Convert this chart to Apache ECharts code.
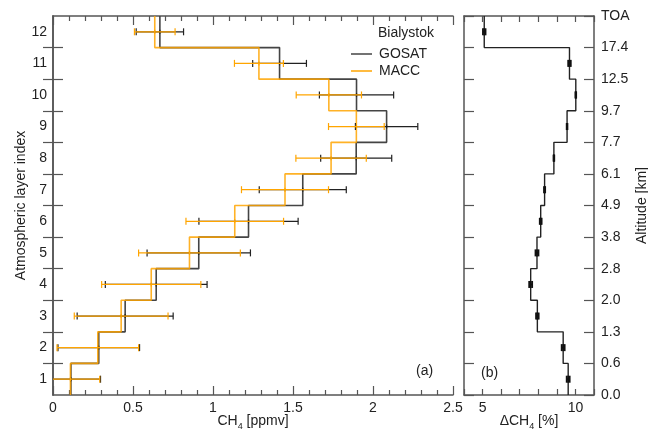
<!DOCTYPE html>
<html>
<head>
<meta charset="utf-8">
<script src="https://cdn.jsdelivr.net/npm/echarts@6.0.0/dist/echarts.min.js"></script>
<style>
  html, body { margin: 0; padding: 0; background: #fff; }
  #chart { width: 648px; height: 432px; }
</style>
</head>
<body>
<div id="chart"></div>
<script>
// capas atmosfericas 1..12
const layers = [1, 2, 3, 4, 5, 6, 7, 8, 9, 10, 11, 12];
const layerBounds = [1.5, 2.5, 3.5, 4.5, 5.5, 6.5, 7.5, 8.5, 9.5, 10.5, 11.5];

// CH4 [ppmv] por capa
const gosat    = [0.112, 0.286, 0.451, 0.645, 0.911, 1.222, 1.561, 1.895, 2.085, 1.897, 1.416, 0.668];
const gosatErr = [0.185, 0.255, 0.300, 0.318, 0.323, 0.310, 0.272, 0.222, 0.195, 0.232, 0.168, 0.148];
const macc     = [0.109, 0.280, 0.426, 0.614, 0.853, 1.136, 1.450, 1.738, 1.896, 1.724, 1.287, 0.636];
const maccErr  = [0.183, 0.255, 0.293, 0.310, 0.318, 0.305, 0.272, 0.220, 0.174, 0.204, 0.153, 0.127];

// diferencia relativa [%]
const deltaCh4 = [9.61, 9.34, 7.95, 7.59, 7.93, 8.13, 8.34, 8.84, 9.55, 10.02, 9.68, 5.09];
const deltaErr = [0.08, 0.08, 0.07, 0.08, 0.08, 0.05, 0.03, 0.02, 0.02, 0.02, 0.07, 0.07];

// altitud en los limites de capa
const altitudeLabels = ['0.0', '0.6', '1.3', '2.0', '2.8', '3.8', '4.9', '6.1', '7.7', '9.7', '12.5', '17.4', 'TOA'];

const FONT = "'Liberation Sans', Arial, sans-serif";
const FRAME = '#555';
const TEXT = '#222';
const GOSAT_COLOR = '#444';
const MACC_COLOR = '#ffa500';

const stepData = (vals) => {
  const out = [];
  vals.forEach((v, i) => {
    out.push([v, layers[i] - 0.5]);
    out.push([v, layers[i] + 0.5]);
  });
  return out;
};

const errData = (vals, errs) => vals.map((v, i) => [v - errs[i], v + errs[i], layers[i], v]);

// barras de error horizontales con remates
const errorBars = (capHalf, midHalf, width) => function (params, api) {
  const y = api.value(2);
  const lo = api.coord([api.value(0), y]);
  const hi = api.coord([api.value(1), y]);
  const mid = api.coord([api.value(3), y]);
  const style = { stroke: api.visual('color'), lineWidth: width, fill: null };
  return {
    type: 'group',
    children: [
      { type: 'line', shape: { x1: lo[0], y1: lo[1], x2: hi[0], y2: hi[1] }, style },
      { type: 'line', shape: { x1: lo[0], y1: lo[1] - capHalf, x2: lo[0], y2: lo[1] + capHalf }, style },
      { type: 'line', shape: { x1: hi[0], y1: hi[1] - capHalf, x2: hi[0], y2: hi[1] + capHalf }, style },
      { type: 'line', shape: { x1: mid[0], y1: mid[1] - midHalf, x2: mid[0], y2: mid[1] + midHalf }, style }
    ]
  };
};

const axisLine = { show: true, lineStyle: { color: FRAME, width: 1.5 } };
const tickLine = { color: FRAME, width: 1.2 };
const labelStyle = { color: TEXT, fontSize: 14, fontFamily: FONT };
const subRich = {
  n: { fontSize: 14, color: TEXT, fontFamily: FONT, lineHeight: 20, verticalAlign: 'middle' },
  s: { fontSize: 9, color: TEXT, fontFamily: FONT, lineHeight: 9, verticalAlign: 'bottom' }
};

const chart = echarts.init(document.getElementById('chart'));

chart.setOption({
  animation: false,
  textStyle: { fontFamily: FONT },
  grid: [
    { left: 53, top: 16, width: 400, height: 379, containLabel: false, outerBoundsMode: 'none' },
    { left: 464, top: 16, width: 130, height: 379, containLabel: false, outerBoundsMode: 'none' }
  ],
  legend: {
    orient: 'vertical',
    left: 346,
    top: 41,
    icon: 'rect',
    itemWidth: 21,
    itemHeight: 1.5,
    itemGap: 1,
    data: [
      { name: 'GOSAT', itemStyle: { color: GOSAT_COLOR } },
      { name: 'MACC', itemStyle: { color: MACC_COLOR } }
    ],
    textStyle: { color: TEXT, fontSize: 14, fontFamily: FONT, padding: [0, 0, 0, 2], lineHeight: 16 }
  },
  graphic: [
    { type: 'text', left: 378, top: 26, style: { text: 'Bialystok', fill: TEXT, font: '14px ' + FONT } },
    { type: 'text', left: 416, top: 364, style: { text: '(a)', fill: TEXT, font: '14px ' + FONT } },
    { type: 'text', left: 481, top: 366, style: { text: '(b)', fill: TEXT, font: '14px ' + FONT } }
  ],
  xAxis: [
    {
      gridIndex: 0, type: 'value', position: 'bottom', min: 0, max: 2.5, interval: 0.5,
      axisLine, axisTick: { inside: true, length: 9, lineStyle: tickLine },
      minorTick: { show: true, splitNumber: 5, length: 5, lineStyle: tickLine },
      splitLine: { show: false },
      axisLabel: Object.assign({ margin: 6 }, labelStyle),
      name: '{n|CH}{s|4}{n| [ppmv]}', nameLocation: 'middle', nameGap: 16, nameMoveOverlap: false,
      nameTextStyle: { rich: subRich }
    },
    {
      gridIndex: 0, type: 'value', position: 'top', min: 0, max: 2.5, interval: 0.5,
      axisLine, axisTick: { inside: true, length: 9, lineStyle: tickLine },
      minorTick: { show: true, splitNumber: 5, length: 5, lineStyle: tickLine },
      splitLine: { show: false }, axisLabel: { show: false }
    },
    {
      gridIndex: 1, type: 'value', position: 'bottom', min: 4, max: 11, interval: 1,
      axisLine, axisTick: { inside: true, length: 6, lineStyle: tickLine },
      splitLine: { show: false },
      axisLabel: Object.assign({ margin: 6, formatter: v => (v === 5 || v === 10) ? String(v) : '' }, labelStyle),
      name: '{n|ΔCH}{s|4}{n| [%]}', nameLocation: 'middle', nameGap: 16, nameMoveOverlap: false,
      nameTextStyle: { rich: subRich }
    },
    {
      gridIndex: 1, type: 'value', position: 'top', min: 4, max: 11, interval: 1,
      axisLine, axisTick: { inside: true, length: 6, lineStyle: tickLine },
      splitLine: { show: false }, axisLabel: { show: false }
    }
  ],
  yAxis: [
    {
      gridIndex: 0, type: 'value', position: 'left', min: 0.5, max: 12.5, interval: 1,
      axisLine, axisTick: { inside: true, length: 10, lineStyle: tickLine, customValues: layerBounds },
      splitLine: { show: false },
      axisLabel: Object.assign({ margin: 6, customValues: layers }, labelStyle),
      name: 'Atmospheric layer index', nameLocation: 'middle', nameGap: 25, nameRotate: 90, nameMoveOverlap: false,
      nameTextStyle: { color: TEXT, fontSize: 14, fontFamily: FONT }
    },
    {
      gridIndex: 0, type: 'value', position: 'right', min: 0.5, max: 12.5, interval: 1,
      axisLine, axisTick: { inside: true, length: 10, lineStyle: tickLine, customValues: layerBounds },
      splitLine: { show: false }, axisLabel: { show: false }
    },
    {
      gridIndex: 1, type: 'value', position: 'left', min: 0.5, max: 12.5, interval: 1,
      axisLine, axisTick: { inside: true, length: 10, lineStyle: tickLine },
      splitLine: { show: false }, axisLabel: { show: false }
    },
    {
      gridIndex: 1, type: 'value', position: 'right', min: 0.5, max: 12.5, interval: 1,
      axisLine, axisTick: { inside: true, length: 10, lineStyle: tickLine },
      splitLine: { show: false },
      axisLabel: Object.assign({ margin: 7, formatter: v => altitudeLabels[Math.round(v - 0.5)] }, labelStyle),
      name: 'Altitude [km]', nameLocation: 'middle', nameGap: 41, nameRotate: 90, nameMoveOverlap: false,
      nameTextStyle: { color: TEXT, fontSize: 14, fontFamily: FONT }
    }
  ],
  series: [
    {
      name: 'GOSAT', type: 'line', xAxisIndex: 0, yAxisIndex: 0, data: stepData(gosat),
      symbol: 'none', lineStyle: { color: GOSAT_COLOR, width: 1.6 }, itemStyle: { color: GOSAT_COLOR }, z: 2
    },
    {
      name: 'MACC', type: 'line', xAxisIndex: 0, yAxisIndex: 0, data: stepData(macc),
      symbol: 'none', lineStyle: { color: MACC_COLOR, width: 1.6, opacity: 0.85 }, itemStyle: { color: MACC_COLOR }, z: 3
    },
    {
      type: 'custom', xAxisIndex: 0, yAxisIndex: 0, data: errData(gosat, gosatErr),
      renderItem: errorBars(3.5, 2, 1.2), itemStyle: { color: '#222' }, clip: true, z: 4
    },
    {
      type: 'custom', xAxisIndex: 0, yAxisIndex: 0, data: errData(macc, maccErr),
      renderItem: errorBars(3.5, 2, 1.2), itemStyle: { color: MACC_COLOR }, clip: true, z: 5
    },
    {
      type: 'line', xAxisIndex: 2, yAxisIndex: 2, data: stepData(deltaCh4),
      symbol: 'none', lineStyle: { color: '#222', width: 1.4 }, z: 2
    },
    {
      type: 'custom', xAxisIndex: 2, yAxisIndex: 2, data: errData(deltaCh4, deltaErr),
      renderItem: errorBars(3.5, 3.5, 1.8), itemStyle: { color: '#111' }, clip: true, z: 4
    }
  ]
});
</script>
</body>
</html>
